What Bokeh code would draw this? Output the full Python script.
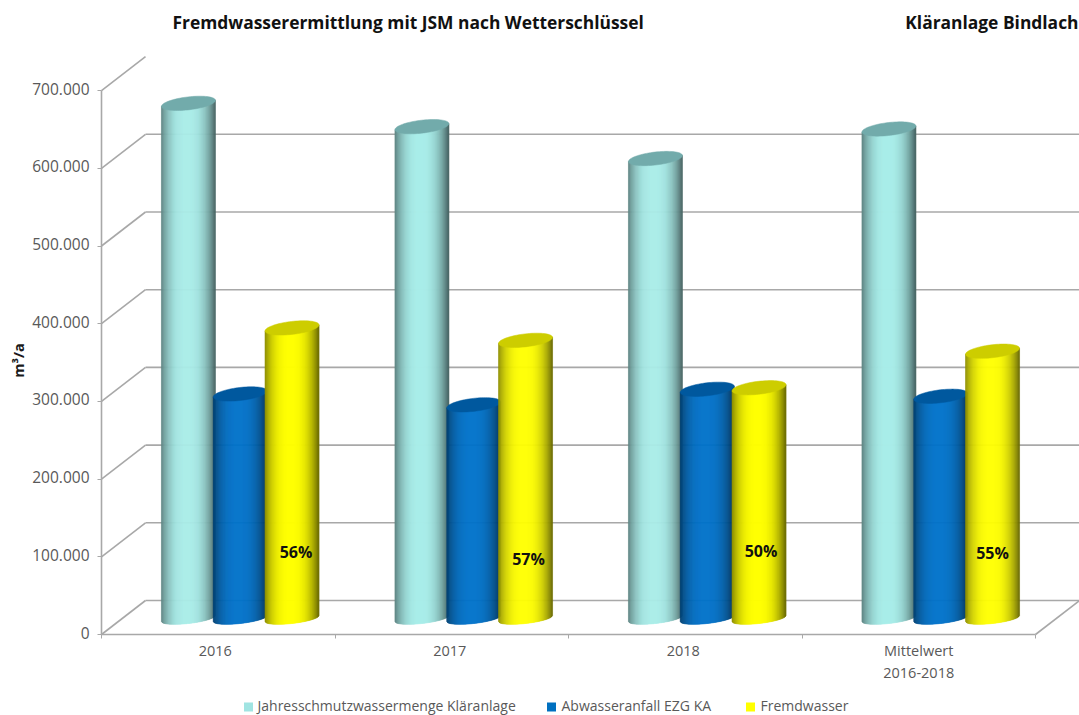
import numpy as np
from bokeh.core.properties import value
from bokeh.embed import file_html
from bokeh.models import FixedTicker, Label, LinearAxis, Range1d
from bokeh.plotting import figure
from bokeh.resources import INLINE

# Annual volumes in m3/a per period
categories = ["2016", "2017", "2018", "Mittelwert\n2016-2018"]
schmutzwasser = [663000, 633000, 592000, 630000]
abwasser = [289000, 275000, 295000, 286000]
fremdwasser = [374000, 358000, 297000, 344000]
anteil = ["56%", "57%", "50%", "55%"]
anteil_hoehe = [106000, 97000, 108000, 105000]
anteil_versatz_px = [4, 3, 2, 0]
kategorie_versatz_px = [-3, -2, -2, 0]
y_ticks = [0, 100000, 200000, 300000, 400000, 500000, 600000, 700000]
y_tick_labels = ["0", "100.000", "200.000", "300.000", "400.000", "500.000", "600.000", "700.000"]

series = [
    ("Jahresschmutzwassermenge Kläranlage", schmutzwasser, (169, 238, 234), (114, 171, 171), "#A0E4E2"),
    ("Abwasseranfall EZG KA", abwasser, (0, 114, 202), (0, 88, 158), "#0070C0"),
    ("Fremdwasser", fremdwasser, (255, 255, 0), (205, 205, 0), "#FFFF00"),
]

# Chart geometry: one category spans PX_X pixels, 100.000 m3/a span PX_Y pixels
W, H = 1079, 715
LEFT, BASE = 101, 634
PX_X = 233.5
PX_Y = 77.7 / 100000
DEPTH_X = 44 / PX_X
DEPTH_Y = 34 / PX_Y
FONT = "Open Sans"
GREY = "#A8A8A8"


def x_of(px):
    return (px - LEFT) / PX_X


def y_of(py):
    return (BASE - py) / PX_Y


p = figure(
    width=W, height=H, output_backend="svg", toolbar_location=None,
    x_range=Range1d(x_of(0), x_of(W)), y_range=Range1d(y_of(H), y_of(0)),
    min_border_left=0, min_border_right=0, min_border_top=0, min_border_bottom=0,
    outline_line_color=None,
)
p.grid.visible = False

# Side walls and back wall of the pseudo 3D box
wall_x, wall_y = [], []
for t in y_ticks:
    wall_x.append([0, DEPTH_X])
    wall_y.append([t, t + DEPTH_Y])
    if t < y_ticks[-1]:
        wall_x.append([DEPTH_X, x_of(W)])
        wall_y.append([t + DEPTH_Y, t + DEPTH_Y])
wall_x.append([len(categories), len(categories) + DEPTH_X])
wall_y.append([0, DEPTH_Y])
p.multi_line(wall_x, wall_y, line_color=GREY, line_width=1.6)


def shade(base, u):
    """Colour of the cylinder surface at u in -1..1 across its width."""
    light = np.clip(1 - abs(u + 0.05) ** 2.6 * 0.52, 0, 1)
    return "#%02x%02x%02x" % tuple(int(round(c * light)) for c in base)


BAR_W = 54 / PX_X
STEP = 51.8 / PX_X
TOP_RY = 6.5 / PX_Y
BASE_RY = 5.0 / PX_Y
TILT = 3.0 / PX_Y / (27 / PX_X)  # ellipses rise slightly to the right
FLOOR = 16 / PX_Y
N = 54

for s, (name, vals, base, top, _) in enumerate(series):
    xs_b, ys_b, cols = [], [], []
    xs_t, ys_t = [], []
    for i, v in enumerate(vals):
        cx = i + 0.5 + DEPTH_X / 2 + (s - 1) * STEP
        edges = np.linspace(-1, 1, N + 1)
        for a, b in zip(edges[:-1], edges[1:]):
            xa, xb = cx + a * BAR_W / 2, cx + b * BAR_W / 2
            tilt_a, tilt_b = TILT * a * BAR_W / 2, TILT * b * BAR_W / 2
            lo_a = FLOOR + tilt_a - BASE_RY * np.sqrt(1 - a * a)
            lo_b = FLOOR + tilt_b - BASE_RY * np.sqrt(1 - b * b)
            up_a = FLOOR + v + tilt_a
            up_b = FLOOR + v + tilt_b
            xs_b.append([xa, xb, xb, xa])
            ys_b.append([lo_a, lo_b, up_b, up_a])
            cols.append(shade(base, (a + b) / 2))
        th = np.linspace(0, 2 * np.pi, 80)
        xs_t.append(list(cx + np.cos(th) * BAR_W / 2))
        ys_t.append(list(FLOOR + v + TILT * np.cos(th) * BAR_W / 2 + np.sin(th) * TOP_RY))
    top_hex = "#%02x%02x%02x" % top
    p.patches(xs_b, ys_b, fill_color=cols, line_color=cols, line_width=0.6)
    p.patches(xs_t, ys_t, fill_color=top_hex, line_color=top_hex, line_width=0.5)

# Share of extraneous water on the yellow cylinders
offset = DEPTH_X / 2 + STEP
p.text(
    x=[i + 0.5 + offset + d / PX_X for i, d in enumerate(anteil_versatz_px)], y=anteil_hoehe, text=anteil,
    text_font=value(FONT), text_font_style="bold", text_font_size="16px", text_color="#111111",
    text_align="center", text_baseline="middle",
)

# Axes sit inside the frame at the front edges of the box
p.yaxis.fixed_location = 0
p.xaxis.fixed_location = 0
p.yaxis.ticker = FixedTicker(ticks=y_ticks)
p.yaxis.major_label_text_color = None
p.yaxis.bounds = (0, 700000)
p.xaxis.bounds = (0, len(categories))
centres = [i + 0.5 + d / PX_X for i, d in enumerate(kategorie_versatz_px)]
p.xaxis.ticker = FixedTicker(ticks=centres, minor_ticks=list(range(len(categories) + 1)))
p.xaxis.major_label_overrides = dict(zip(centres, categories))
p.xaxis.major_tick_line_color = None
p.xaxis.major_label_standoff = 0
p.xaxis.major_label_text_font = FONT
p.xaxis.major_label_text_color = "#595959"
p.xaxis.major_label_text_font_size = "14.5px"
p.xaxis.minor_tick_in = 0
p.xaxis.minor_tick_out = 4
p.xaxis.minor_tick_line_color = GREY
for ax in (p.xaxis[0], p.yaxis[0]):
    ax.axis_line_color = GREY
    ax.axis_line_width = 1.6
p.yaxis.major_tick_line_color = GREY
p.yaxis.major_tick_in = 0
p.yaxis.major_tick_out = 4
p.yaxis.minor_tick_line_color = None

# Value labels on their own axis, its range shifted so the numbers sit just above their ticks
LABEL_LIFT = 2 / PX_Y
p.extra_y_ranges["beschriftung"] = Range1d(y_of(H) - LABEL_LIFT, y_of(0) - LABEL_LIFT)
label_axis = LinearAxis(
    y_range_name="beschriftung", fixed_location=0, ticker=FixedTicker(ticks=y_ticks),
    major_label_overrides=dict(zip(y_ticks, y_tick_labels)), axis_line_color=None,
    major_tick_line_color=None, minor_tick_line_color=None, major_tick_out=4, major_tick_in=0,
    major_label_standoff=8, major_label_text_font=FONT, major_label_text_font_size="15.5px",
    major_label_text_color="#595959",
)
p.add_layout(label_axis, "left")

# Headings and the unit label
heading = dict(text_font=FONT, text_font_style="bold", text_font_size="17.4px", text_color="#111111",
               text_baseline="middle")
p.add_layout(Label(x=x_of(172), y=y_of(21.5), text="Fremdwasserermittlung mit JSM nach Wetterschlüssel", **heading))
p.add_layout(Label(x=x_of(1078), y=y_of(21.5), text="Kläranlage Bindlach", text_align="right", **heading))
p.add_layout(Label(x=x_of(18), y=y_of(360), text="m³/a", angle=np.pi / 2, text_font=FONT, text_font_style="bold",
                   text_font_size="14.5px", text_color="#1a1a1a", text_align="center", text_baseline="middle"))

# Legend row: a small swatch in front of every series name
legend_swatch_px = [248, 551, 750]
legend_text_px = [257, 561, 760]
for (name, _, _, _, swatch), sx, tx in zip(series, legend_swatch_px, legend_text_px):
    p.quad(left=[x_of(sx - 4.5)], right=[x_of(sx + 4.5)], top=[y_of(702)], bottom=[y_of(711)],
           fill_color=swatch, line_color=None)
    p.text(x=[x_of(tx)], y=[y_of(705)], text=[name], text_font=value(FONT), text_font_size="14px",
           text_color="#595959", text_baseline="middle")

open("out.html", "w").write(file_html(p, INLINE))
